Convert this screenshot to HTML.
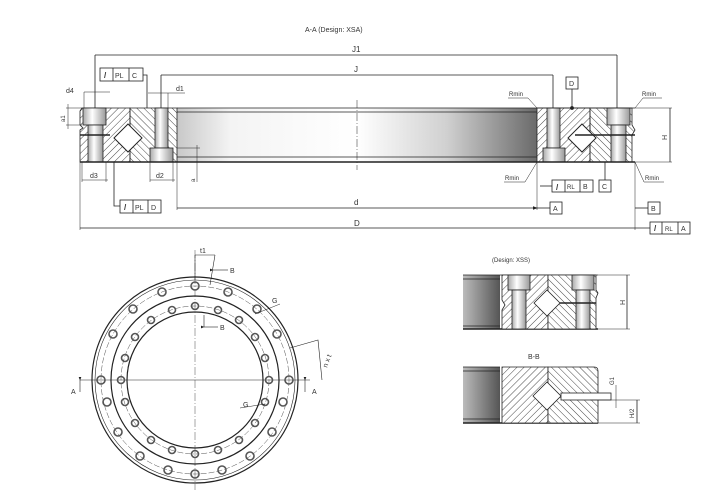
<!DOCTYPE html>
<html><head><meta charset="utf-8"><style>
html,body{margin:0;padding:0;background:#fff}
svg{display:block}
text{font-family:"Liberation Sans",sans-serif;fill:#333}
</style></head><body>
<svg width="721" height="491" viewBox="0 0 721 491" xmlns="http://www.w3.org/2000/svg">
<defs>
<pattern id="h" width="5" height="5" patternUnits="userSpaceOnUse" patternTransform="rotate(45)">
<rect width="5" height="5" fill="#fff"/><line x1="0" y1="0" x2="0" y2="5" stroke="#333" stroke-width="0.9"/></pattern>
<pattern id="h2" width="5" height="5" patternUnits="userSpaceOnUse" patternTransform="rotate(-45)">
<rect width="5" height="5" fill="#fff"/><line x1="0" y1="0" x2="0" y2="5" stroke="#333" stroke-width="0.9"/></pattern>
<linearGradient id="bore" x1="0" x2="1" y1="0" y2="0">
<stop offset="0" stop-color="#c8c8c8"/><stop offset="0.15" stop-color="#f4f4f4"/><stop offset="0.5" stop-color="#fff"/><stop offset="0.75" stop-color="#d0d0d0"/><stop offset="1" stop-color="#6a6a6a"/></linearGradient>
<linearGradient id="bolt" x1="0" x2="1"><stop offset="0" stop-color="#aaa"/><stop offset="0.4" stop-color="#fff"/><stop offset="1" stop-color="#999"/></linearGradient>
<linearGradient id="bore2" x1="0" x2="1"><stop offset="0" stop-color="#bbb"/><stop offset="1" stop-color="#555"/></linearGradient>
<marker id="ar" markerWidth="6" markerHeight="6" refX="5" refY="3" orient="auto"><path d="M0,0.8 L6,3 L0,5.2z" fill="#222"/></marker>
</defs>
<g stroke="#222" stroke-width="0.8" fill="none">
<text x="305" y="32" font-size="7" stroke="none">A-A (Design: XSA)</text>
<line x1="95" y1="55" x2="617" y2="55"/><line x1="95" y1="55" x2="95" y2="108"/><line x1="617" y1="55" x2="617" y2="108"/>
<text x="352" y="52" font-size="8" stroke="none">J1</text>
<line x1="161" y1="75" x2="553" y2="75"/><line x1="161" y1="75" x2="161" y2="108"/><line x1="553" y1="75" x2="553" y2="108"/>
<text x="354" y="72" font-size="8" stroke="none">J</text>
<rect x="177" y="108" width="360" height="54" fill="url(#bore)" stroke="none"/>
<line x1="177" y1="108" x2="537" y2="108"/><line x1="177" y1="112" x2="537" y2="112"/>
<line x1="177" y1="157" x2="537" y2="157"/><line x1="177" y1="162" x2="537" y2="162" stroke-width="1.6"/>
<line x1="357" y1="100" x2="357" y2="170" stroke-dasharray="8,2,1,2" stroke-width="0.5"/>
<path d="M82,108 H130 V162 H80 V130 L83,128 L80,125 V111z" fill="url(#h)"/>
<path d="M130,108 H177 V162 H130z" fill="url(#h2)"/>
<line x1="130" y1="108" x2="130" y2="162"/>
<path d="M128,124 L142,138 L128,152 L114,138z" fill="#fff" stroke-width="1"/>
<rect x="83" y="108" width="23" height="17" fill="url(#bolt)"/>
<rect x="88" y="125" width="15" height="37" fill="url(#bolt)"/>
<line x1="80" y1="135" x2="110" y2="135" stroke-width="1.5"/>
<rect x="155" y="108" width="13" height="40" fill="url(#bolt)"/>
<rect x="150" y="148" width="23" height="14" fill="url(#bolt)"/>
<line x1="80" y1="162" x2="177" y2="162" stroke-width="1.6"/>
<path d="M537,108 H590 V162 H537z" fill="url(#h)"/>
<path d="M590,108 H632 V125 L635,130 L632,135 V162 H590z" fill="url(#h2)"/>
<line x1="590" y1="108" x2="590" y2="162"/>
<path d="M582,124 L596,138 L582,152 L568,138z" fill="#fff" stroke-width="1"/>
<rect x="547" y="108" width="13" height="40" fill="url(#bolt)"/>
<rect x="543" y="148" width="22" height="14" fill="url(#bolt)"/>
<rect x="607" y="108" width="23" height="17" fill="url(#bolt)"/>
<rect x="611" y="125" width="15" height="37" fill="url(#bolt)"/>
<line x1="575" y1="135" x2="635" y2="135" stroke-width="1.5"/>
<line x1="537" y1="162" x2="635" y2="162" stroke-width="1.6"/>
<line x1="537" y1="108" x2="635" y2="108"/>
<line x1="635" y1="108" x2="672" y2="108" stroke-width="0.5"/><line x1="635" y1="162" x2="672" y2="162" stroke-width="0.5"/>
<line x1="670" y1="108" x2="670" y2="162"/>
<text x="667" y="140" font-size="7" stroke="none" transform="rotate(-90 667 140)">H</text>
<line x1="84" y1="92" x2="110" y2="92" stroke-width="0.5"/><line x1="84" y1="92" x2="84" y2="108" stroke-width="0.5"/>
<text x="66" y="93" font-size="7" stroke="none">d4</text>
<line x1="148" y1="93" x2="185" y2="93" stroke-width="0.5"/><line x1="168" y1="93" x2="168" y2="108" stroke-width="0.5"/>
<text x="176" y="91" font-size="7" stroke="none">d1</text>
<line x1="66" y1="108" x2="82" y2="108" stroke-width="0.5"/><line x1="66" y1="125" x2="82" y2="125" stroke-width="0.5"/>
<line x1="68" y1="104" x2="68" y2="129" stroke-width="0.5"/>
<text x="65" y="122" font-size="6" stroke="none" transform="rotate(-90 65 122)">a1</text>
<line x1="82" y1="162" x2="82" y2="182" stroke-width="0.5"/><line x1="106" y1="162" x2="106" y2="182" stroke-width="0.5"/>
<line x1="82" y1="180" x2="108" y2="180" stroke-width="0.5"/><text x="90" y="178" font-size="7" stroke="none">d3</text>
<line x1="150" y1="162" x2="150" y2="182" stroke-width="0.5"/><line x1="173" y1="162" x2="173" y2="182" stroke-width="0.5"/>
<line x1="150" y1="180" x2="175" y2="180" stroke-width="0.5"/><text x="156" y="178" font-size="7" stroke="none">d2</text>
<line x1="177" y1="148" x2="200" y2="148" stroke-width="0.5"/><line x1="197" y1="145" x2="197" y2="182" stroke-width="0.5"/>
<text x="195" y="182" font-size="6" stroke="none" transform="rotate(-90 195 182)">a</text>
<line x1="177" y1="162" x2="177" y2="210" stroke-width="0.5"/>
<line x1="177" y1="208" x2="537" y2="208"/><text x="354" y="205" font-size="8" stroke="none">d</text>
<line x1="537" y1="162" x2="537" y2="210" stroke-width="0.5"/>
<line x1="537" y1="208" x2="550" y2="208" marker-start="url(#ar)"/>
<rect x="550" y="202" width="12" height="12" fill="#fff"/><text x="553" y="211" font-size="7" stroke="none">A</text>
<line x1="80" y1="162" x2="80" y2="230" stroke-width="0.5"/>
<line x1="80" y1="228" x2="650" y2="228"/><text x="354" y="226" font-size="8" stroke="none">D</text>
<line x1="635" y1="162" x2="635" y2="230" stroke-width="0.5"/>
<line x1="635" y1="208" x2="648" y2="208"/>
<rect x="648" y="202" width="12" height="12" fill="#fff"/><text x="651" y="211" font-size="7" stroke="none">B</text>
<rect x="650" y="222" width="40" height="12" fill="#fff"/><line x1="662" y1="222" x2="662" y2="234"/><line x1="678" y1="222" x2="678" y2="234"/>
<text x="654" y="231" font-size="8" font-weight="bold" stroke="none">/</text><text x="665" y="231" font-size="6" stroke="none">RL</text><text x="681" y="231" font-size="7" stroke="none">A</text>
<rect x="100" y="68" width="43" height="13" fill="#fff"/><line x1="113" y1="68" x2="113" y2="81"/><line x1="129" y1="68" x2="129" y2="81"/>
<text x="104" y="78" font-size="8" font-weight="bold" stroke="none">/</text><text x="115" y="78" font-size="7" stroke="none">PL</text><text x="132" y="78" font-size="7" stroke="none">C</text>
<polyline points="143,75 147,75 147,108"/>
<rect x="120" y="200" width="41" height="13" fill="#fff"/><line x1="133" y1="200" x2="133" y2="213"/><line x1="148" y1="200" x2="148" y2="213"/>
<text x="124" y="210" font-size="8" font-weight="bold" stroke="none">/</text><text x="135" y="210" font-size="7" stroke="none">PL</text><text x="151" y="210" font-size="7" stroke="none">D</text>
<polyline points="120,206 114,206 114,162"/>
<rect x="566" y="77" width="12" height="12" fill="#fff"/><text x="569" y="86" font-size="7" stroke="none">D</text>
<line x1="572" y1="89" x2="572" y2="108"/><circle cx="572" cy="108" r="1.5" fill="#222"/>
<rect x="552" y="180" width="41" height="12" fill="#fff"/><line x1="565" y1="180" x2="565" y2="192"/><line x1="580" y1="180" x2="580" y2="192"/>
<text x="556" y="190" font-size="8" font-weight="bold" stroke="none">/</text><text x="567" y="189" font-size="6" stroke="none">RL</text><text x="583" y="189" font-size="7" stroke="none">B</text>
<line x1="540" y1="186" x2="552" y2="186"/>
<rect x="599" y="180" width="12" height="12" fill="#fff"/><text x="602" y="189" font-size="7" stroke="none">C</text>
<line x1="605" y1="180" x2="605" y2="162"/>
<text x="509" y="96" font-size="6" stroke="none">Rmin</text><polyline points="508,98 528,98 537,108" stroke-width="0.5"/>
<text x="642" y="96" font-size="6" stroke="none">Rmin</text><polyline points="662,98 643,98 635,108" stroke-width="0.5"/>
<text x="505" y="180" font-size="6" stroke="none">Rmin</text><polyline points="504,182 525,182 537,162" stroke-width="0.5"/>
<text x="645" y="180" font-size="6" stroke="none">Rmin</text><polyline points="664,182 644,182 635,162" stroke-width="0.5"/>
</g>
<g stroke="#222" fill="none">
<circle cx="195" cy="380" r="103" stroke-width="1.2"/>
<circle cx="195" cy="380" r="100" stroke-width="0.6"/>
<circle cx="195" cy="380" r="84" stroke-width="1.2"/>
<circle cx="195" cy="380" r="68" stroke-width="1.2"/>
<circle cx="195" cy="380" r="94" stroke-width="0.4" stroke-dasharray="6,2"/>
<circle cx="195" cy="380" r="74" stroke-width="0.4" stroke-dasharray="6,2"/>
<line x1="195" y1="250" x2="195" y2="490" stroke-width="0.4" stroke-dasharray="8,2,1,2"/>
<line x1="80" y1="380" x2="310" y2="380" stroke-width="0.5"/>
<g stroke-width="1.6" stroke="#555">
<circle cx="195" cy="286" r="4"/><circle cx="195" cy="474" r="4"/><circle cx="101" cy="380" r="4"/><circle cx="289" cy="380" r="4"/>
<circle cx="228" cy="292" r="4"/><circle cx="257" cy="309" r="4"/><circle cx="277" cy="334" r="4"/><circle cx="283" cy="402" r="4"/><circle cx="272" cy="432" r="4"/><circle cx="250" cy="456" r="4"/><circle cx="222" cy="470" r="4"/>
<circle cx="162" cy="292" r="4"/><circle cx="133" cy="309" r="4"/><circle cx="113" cy="334" r="4"/><circle cx="107" cy="402" r="4"/><circle cx="118" cy="432" r="4"/><circle cx="140" cy="456" r="4"/><circle cx="168" cy="470" r="4"/>
<circle cx="195" cy="306" r="3.5"/><circle cx="195" cy="454" r="3.5"/><circle cx="121" cy="380" r="3.5"/><circle cx="269" cy="380" r="3.5"/>
<circle cx="218" cy="310" r="3.5"/><circle cx="239" cy="320" r="3.5"/><circle cx="255" cy="337" r="3.5"/><circle cx="265" cy="358" r="3.5"/><circle cx="265" cy="402" r="3.5"/><circle cx="255" cy="423" r="3.5"/><circle cx="239" cy="440" r="3.5"/><circle cx="218" cy="450" r="3.5"/>
<circle cx="172" cy="310" r="3.5"/><circle cx="151" cy="320" r="3.5"/><circle cx="135" cy="337" r="3.5"/><circle cx="125" cy="358" r="3.5"/><circle cx="125" cy="402" r="3.5"/><circle cx="135" cy="423" r="3.5"/><circle cx="151" cy="440" r="3.5"/><circle cx="172" cy="450" r="3.5"/>
</g>
<line x1="195" y1="255" x2="195" y2="280" stroke-width="0.6"/><line x1="195" y1="255" x2="215" y2="255" stroke-width="0.6"/><line x1="215" y1="255" x2="210" y2="285" stroke-width="0.6"/>
<line x1="213" y1="270" x2="228" y2="270" stroke-width="0.6" marker-start="url(#ar)"/>
<line x1="204" y1="327" x2="204" y2="315" stroke-width="0.6"/><line x1="204" y1="327" x2="218" y2="327" stroke-width="0.6" marker-start="url(#ar)"/>
<line x1="255" y1="314" x2="280" y2="304" stroke-width="0.5"/><line x1="240" y1="408" x2="265" y2="404" stroke-width="0.5"/>
<polyline points="290,348 318,340 322,380" stroke-width="0.6"/>
<line x1="80" y1="380" x2="80" y2="392" stroke-width="0.6" marker-start="url(#ar)"/>
<line x1="305" y1="380" x2="305" y2="392" stroke-width="0.6" marker-start="url(#ar)"/>
</g>
<g font-size="7">
<text x="200" y="253">t1</text><text x="230" y="273">B</text><text x="220" y="330">B</text>
<text x="272" y="303">G</text><text x="243" y="407">G</text>
<text x="71" y="394">A</text><text x="312" y="394">A</text>
<text x="327" y="368" transform="rotate(-70 327 368)">n x t</text>
</g>
<g stroke="#222" stroke-width="0.8" fill="none">
<text x="492" y="262" font-size="6" stroke="none">(Design: XSS)</text>
<rect x="463" y="275" width="37" height="54" fill="url(#bore2)" stroke="none"/>
<line x1="463" y1="275" x2="598" y2="275"/><line x1="463" y1="279" x2="500" y2="279"/><line x1="463" y1="326" x2="500" y2="326"/><line x1="463" y1="329" x2="598" y2="329" stroke-width="1.4"/>
<path d="M502,275 H548 V329 H502 V310 L505,305 L502,300z" fill="url(#h)"/>
<path d="M548,275 H596 V290 L598,293 L596,298 V329 H548z" fill="url(#h2)"/>
<path d="M547,290 L560,303 L547,316 L534,303z" fill="#fff"/>
<rect x="508" y="275" width="22" height="15" fill="url(#bolt)"/><rect x="512" y="290" width="14" height="39" fill="url(#bolt)"/>
<rect x="572" y="275" width="22" height="15" fill="url(#bolt)"/><rect x="576" y="290" width="14" height="39" fill="url(#bolt)"/>
<line x1="560" y1="303" x2="596" y2="303" stroke-width="1.5"/>
<line x1="598" y1="275" x2="630" y2="275" stroke-width="0.5"/><line x1="598" y1="329" x2="630" y2="329" stroke-width="0.5"/>
<line x1="627" y1="275" x2="627" y2="329"/>
<text x="625" y="305" font-size="7" stroke="none" transform="rotate(-90 625 305)">H</text>
<text x="528" y="359" font-size="7" stroke="none">B-B</text>
<rect x="463" y="367" width="37" height="56" fill="url(#bore2)" stroke="none"/>
<line x1="463" y1="367" x2="500" y2="367"/><line x1="463" y1="371" x2="500" y2="371"/><line x1="463" y1="419" x2="500" y2="419"/><line x1="463" y1="423" x2="598" y2="423" stroke-width="1.4"/>
<path d="M502,367 H548 V423 H502z" fill="url(#h)"/>
<path d="M548,367 H594 Q598,367 598,371 V423 H548z" fill="url(#h2)"/>
<path d="M547,382 L561,396 L547,410 L533,396z" fill="#fff"/>
<rect x="561" y="393" width="50" height="7" fill="#fff"/>
<line x1="590" y1="400" x2="640" y2="400" stroke-width="0.5"/><line x1="598" y1="423" x2="640" y2="423" stroke-width="0.5"/>
<line x1="637" y1="400" x2="637" y2="423"/>
<text x="634" y="418" font-size="6" stroke="none" transform="rotate(-90 634 418)">H/2</text>
<line x1="616" y1="385" x2="616" y2="408" stroke-width="0.5"/>
<text x="614" y="385" font-size="6" stroke="none" transform="rotate(-90 614 385)">G1</text>
</g>
</svg>
</body></html>
